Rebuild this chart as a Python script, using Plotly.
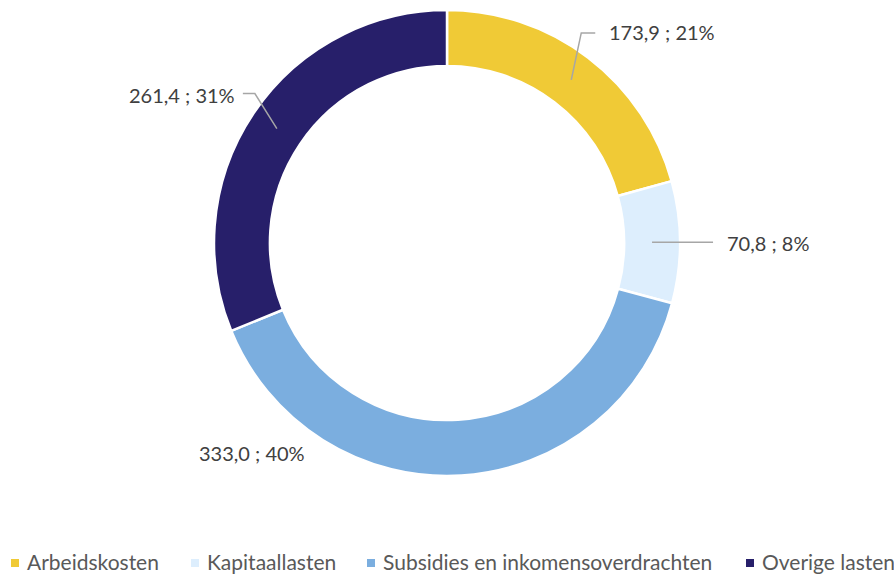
import math
import plotly.graph_objects as go

# data
labels = ["Arbeidskosten", "Kapitaallasten", "Subsidies en inkomensoverdrachten", "Overige lasten"]
values = [173.9, 70.8, 333.0, 261.4]
pct_text = ["21%", "8%", "40%", "31%"]
colors = ["#F0CA36", "#DDEEFD", "#7BAEDF", "#271F6A"]

W, H = 894, 575
CX, CY, R = 447, 243, 233   # donut centre / outer radius in px
HOLE = 0.76
R_MID = R * (1 + HOLE) / 2

def px(x):
    return x / W

def py(y):
    return 1 - y / H

fig = go.Figure()
fig.add_trace(go.Pie(
    labels=labels, values=values, sort=False, direction="clockwise", rotation=0,
    hole=HOLE, textinfo="none", hoverinfo="label+value+percent",
    marker=dict(colors=colors, line=dict(color="white", width=2.5)),
    domain=dict(x=[px(CX - R), px(CX + R)], y=[py(CY + R), py(CY - R)]),
    showlegend=False,
))

# anchor points on the ring middle, derived from the values
total = sum(values)
anchors = []
cum = 0
for v in values:
    mid = (cum + v / 2) / total * 2 * math.pi
    anchors.append((CX + R_MID * math.sin(mid), CY - R_MID * math.cos(mid)))
    cum += v

label_text = [f"{v:.1f}".replace(".", ",") + " ; " + p for v, p in zip(values, pct_text)]

# leader paths (relative offsets from anchor) and text placement
leaders = [
    [(0, 0), (10, -47), (24, -47)],
    [(0, 0), (61, 0)],
    None,
    [(0, 0), (-22, -35), (-34, -35)],
]
text_pos = [
    (607, 32, "left"),
    (725, 243, "left"),
    (307, 453, "right"),
    (237, 95, "right"),
]

for i, (ax, ay) in enumerate(anchors):
    if leaders[i]:
        pts = [(ax + dx, ay + dy) for dx, dy in leaders[i]]
        path = "M " + " L ".join(f"{px(x)},{py(y)}" for x, y in pts)
        fig.add_shape(type="path", path=path, xref="paper", yref="paper",
                      line=dict(color="#A6A6A6", width=1.5))
    tx, ty, anc = text_pos[i]
    fig.add_annotation(x=px(tx), y=py(ty), xref="paper", yref="paper",
                       text=label_text[i], showarrow=False, xanchor=anc, yanchor="middle",
                       font=dict(family="Lato", size=20, color="#404040"))

# legend drawn by hand to match the spacing
legend_x = [11, 191, 367, 746]
legend_y = 561
for i, lab in enumerate(labels):
    x0 = legend_x[i]
    fig.add_shape(type="rect", xref="paper", yref="paper",
                  x0=px(x0), x1=px(x0 + 8), y0=py(legend_y + 6), y1=py(legend_y - 2),
                  fillcolor=colors[i], line=dict(width=0))
    fig.add_annotation(x=px(x0 + 14), y=py(legend_y), xref="paper", yref="paper",
                       text=lab, showarrow=False, xanchor="left", yanchor="middle",
                       font=dict(family="Lato", size=21, color="#595959"))

fig.update_layout(
    width=W, height=H,
    margin=dict(l=0, r=0, t=0, b=0),
    paper_bgcolor="white", plot_bgcolor="white",
    showlegend=False,
)

fig.write_html("out.html", config={"displayModeBar": False},
               post_script="document.body.style.margin='0';")
